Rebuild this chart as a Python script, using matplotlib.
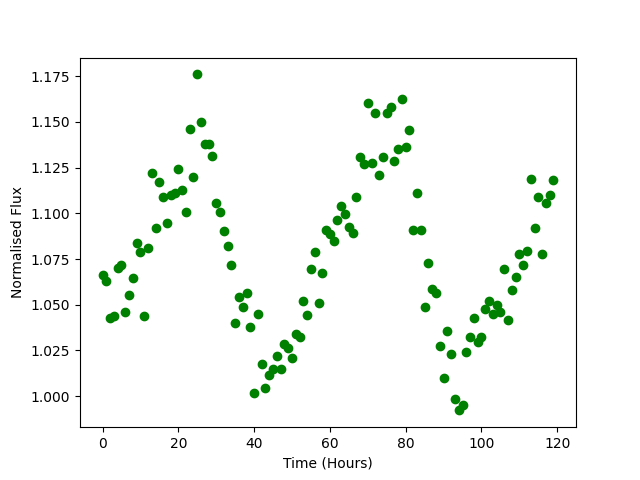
import numpy as np
import matplotlib
matplotlib.use('Agg')
import matplotlib.pyplot as plt

# time in hours, one reading per hour
time = np.arange(0, 120)

flux = [1.066, 1.063, 1.043, 1.044, 1.070, 1.0715, 1.046, 1.0556, 1.0644, 1.0835,
        1.079, 1.0436, 1.081, 1.122, 1.092, 1.117, 1.109, 1.0946, 1.110, 1.111,
        1.124, 1.1125, 1.1005, 1.1464, 1.120, 1.176, 1.1497, 1.1382, 1.1382, 1.1316,
        1.1059, 1.101, 1.0906, 1.0819, 1.072, 1.0398, 1.0541, 1.0485, 1.0562, 1.0376,
        1.0015, 1.0447, 1.0175, 1.0042, 1.0113, 1.0146, 1.0219, 1.0146, 1.0284, 1.0262,
        1.0206, 1.0341, 1.0321, 1.052, 1.0443, 1.0695, 1.0787, 1.0507, 1.0671, 1.0908,
        1.0886, 1.0848, 1.0961, 1.1039, 1.0994, 1.0923, 1.0895, 1.1087, 1.1307, 1.127,
        1.1602, 1.1278, 1.1548, 1.1207, 1.1307, 1.1551, 1.1579, 1.1284, 1.1351, 1.1623,
        1.1365, 1.1455, 1.0911, 1.111, 1.0911, 1.0485, 1.0726, 1.0585, 1.0562, 1.0273,
        1.0097, 1.0354, 1.023, 0.9984, 0.9922, 0.9949, 1.0244, 1.0321, 1.0425, 1.0297,
        1.0326, 1.0476, 1.0523, 1.0448, 1.0501, 1.0458, 1.0698, 1.0414, 1.0578, 1.0649,
        1.078, 1.0715, 1.0793, 1.119, 1.0922, 1.1087, 1.078, 1.1057, 1.1103, 1.118]

fig = plt.figure(figsize=(6.4, 4.8), dpi=100)
plt.plot(time, flux, 'go')
plt.xlabel('Time (Hours)')
plt.ylabel('Normalised Flux')
fig.savefig('out.png')
